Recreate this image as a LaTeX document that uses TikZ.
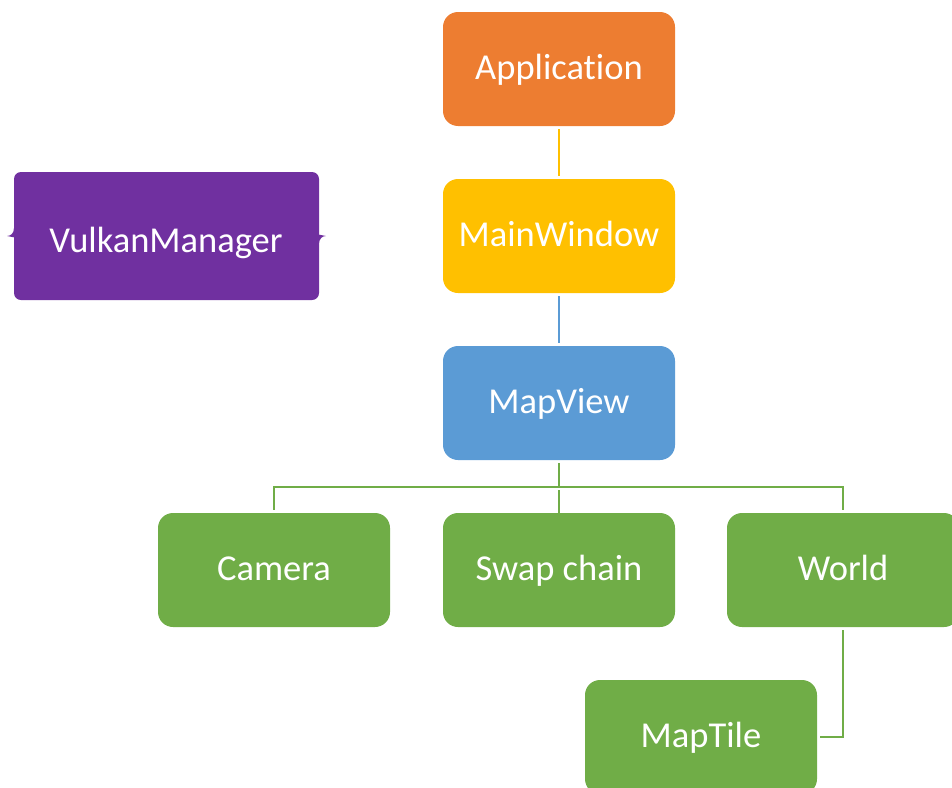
\documentclass[tikz,border=0pt]{standalone}
\usepackage{fontspec}
\setmainfont[Ligatures={NoCommon}]{Carlito}
\definecolor{appcol}{HTML}{ED7D31}
\definecolor{wincol}{HTML}{FFC000}
\definecolor{viewcol}{HTML}{5B9BD5}
\definecolor{leafcol}{HTML}{70AD47}
\definecolor{mgrcol}{HTML}{7030A0}
\tikzset{
  label text/.style={inner sep=0pt, text=white, text height=26pt, text depth=6pt,
    font=\fontsize{36.5}{40}\selectfont},
  box/.style={label text, rounded corners=15pt, minimum width=232pt, minimum height=114pt},
  link/.style={line width=2.8pt, shorten <=3pt, shorten >=3pt}
}
\begin{document}
\begin{tikzpicture}[x=1pt,y=-1pt]
\useasboundingbox (0,0) rectangle (952,787);
% manager plaque with brace tips on both sides
\fill[mgrcol, rounded corners=7pt] (14,172) -- (319,172)
  -- (319,228) [sharp corners] .. controls (319,234) and (323,236) .. (326,236)
  .. controls (323,236) and (319,238) .. (319,244) [rounded corners=7pt]
  -- (319,300) -- (14,300)
  -- (14,244) [sharp corners] .. controls (14,238) and (10,236) .. (7,236)
  .. controls (10,236) and (14,234) .. (14,228) [rounded corners=7pt]
  -- cycle;
\node[label text] (vm) at (166,242) {VulkanManager};
% hierarchy
\node[box, fill=appcol] (app) at (559,69) {Application};
\node[box, fill=wincol] (win) at (559,236) {MainWindow};
\node[box, fill=viewcol] (view) at (559,403) {MapView};
\node[box, fill=leafcol] (cam) at (274,570) {Camera};
\node[box, fill=leafcol] (swap) at (559,570) {Swap chain};
\node[box, fill=leafcol] (world) at (843,570) {World};
\node[box, fill=leafcol] (tile) at (701,737) {MapTile};
\coordinate (bus) at (559,487);
\draw[link, wincol] (app) -- (win);
\draw[link, viewcol] (win) -- (view);
\draw[leafcol, line width=2.8pt, shorten <=3pt] (view) -- (bus);
\draw[leafcol, line width=2.8pt, shorten <=3pt, shorten >=3pt] (cam.north) |- (bus) -| (world.north);
\draw[leafcol, line width=2.8pt, shorten <=3pt] (bus) -- (swap.north);
\draw[link, leafcol] (world.south) |- (tile.east);
\end{tikzpicture}
\end{document}
